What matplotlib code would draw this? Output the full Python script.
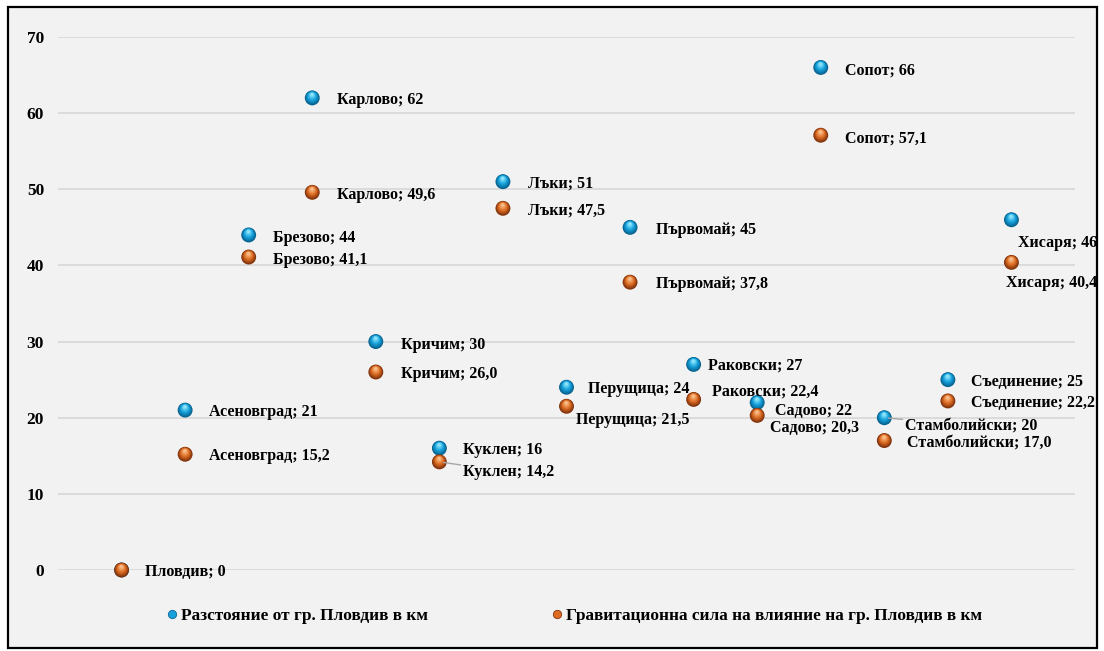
import numpy as np
import matplotlib
matplotlib.use("Agg")
import matplotlib.pyplot as plt
from matplotlib.transforms import offset_copy
from matplotlib.patches import Rectangle
from matplotlib.lines import Line2D
from matplotlib.colors import to_rgb

plt.rcParams['font.family'] = ['Liberation Serif', 'DejaVu Serif']
plt.rcParams['font.weight'] = 'bold'

# данни
towns = ['Пловдив', 'Асеновград', 'Брезово', 'Карлово', 'Кричим', 'Куклен', 'Лъки',
         'Перущица', 'Първомай', 'Раковски', 'Садово', 'Сопот', 'Стамболийски',
         'Съединение', 'Хисаря']
distance = [0, 21, 44, 62, 30, 16, 51, 24, 45, 27, 22, 66, 20, 25, 46]
gravity = [0, 15.2, 41.1, 49.6, 26.0, 14.2, 47.5, 21.5, 37.8, 22.4, 20.3, 57.1, 17.0, 22.2, 40.4]
name_dist = 'Разстояние от гр. Пловдив в км'
name_grav = 'Гравитационна сила на влияние на гр. Пловдив в км'

# отместване на етикетите (пиксели: надясно, надолу)
off_dist = [(23, 0), (24, 0), (24, 1), (25, 0), (25, 1), (24, 0), (25, 0), (21, 0),
            (26, 1), (14, -1), (18, 7), (24, 1), (21, 6), (23, 0), (7, 21)]
off_grav = [None, (24, 0), (24, 1), (25, 1), (25, 0), (24, 8), (25, 0), (10, 12),
            (26, 0), (18, -10), (13, 11), (24, 1), (23, 0), (23, 0), (-5, 19)]

x = np.arange(1, len(towns) + 1)

fig = plt.figure(figsize=(11.04, 6.51), dpi=100)
fig.patches.append(Rectangle((8 / 1104, 3 / 651), 1089 / 1104, 641 / 651,
                             transform=fig.transFigure, facecolor='#f2f2f2',
                             edgecolor='black', linewidth=1.6, zorder=-5))
ax = fig.add_axes([58 / 1104, 1 - 570 / 651, 1017 / 1104, 533 / 651])
ax.set_facecolor('none')


def sphere(xs, ys, dark, mid, light, s=115, z=3):
    # псевдо 3D топче: няколко кръга с преливане
    n = 9
    d, m, l = np.array(to_rgb(dark)), np.array(to_rgb(mid)), np.array(to_rgb(light))
    r = np.sqrt(s) / 2
    ax.scatter(xs, ys, s=s, color=dark, edgecolors='none', zorder=z, clip_on=False)
    for k in range(1, n):
        f = k / (n - 1)
        c = d + (m - d) * f * 2 if f < 0.5 else m + (l - m) * (f - 0.5) * 2
        size = s * (1 - 0.8 * f) ** 2
        tr = offset_copy(ax.transData, fig=fig, x=-0.03 * r * f, y=0.45 * r * f, units='points')
        ax.scatter(xs, ys, s=size, color=np.clip(c, 0, 1), edgecolors='none',
                   zorder=z + f, transform=tr, clip_on=False)


sphere(x, distance, '#06628f', '#18a4de', '#8be4fa')
sphere(x, gravity, '#80320c', '#de6e24', '#f8bc88', z=5)

lead = dict(arrowstyle='-', color='#a6a6a6', lw=1, shrinkA=0, shrinkB=3)
for i in range(len(towns)):
    dx, dy = off_dist[i]
    ax.annotate(f'{towns[i]}; {distance[i]}', (x[i], distance[i]),
                xytext=(dx * 0.72, -(dy + 2) * 0.72), textcoords='offset points',
                ha='left', va='center', fontsize=11.5, fontweight='bold', zorder=8,
                arrowprops=lead if towns[i] == 'Стамболийски' else None)
    if off_grav[i] is not None:
        dx, dy = off_grav[i]
        ax.annotate(f'{towns[i]}; {gravity[i]:.1f}'.replace('.', ','), (x[i], gravity[i]),
                    xytext=(dx * 0.72, -(dy + 2) * 0.72), textcoords='offset points',
                    ha='left', va='center', fontsize=11.5, fontweight='bold', zorder=8,
                    arrowprops=lead if towns[i] == 'Куклен' else None)

ax.set_xlim(0, 16)
ax.set_ylim(0, 70)
ax.set_yticks(np.arange(0, 71, 10))
ax.set_xticks([])
ax.grid(axis='y', color='#d9d9d9', lw=1.3, zorder=0)
ax.set_axisbelow(True)
for sp in ax.spines.values():
    sp.set_visible(False)
ax.tick_params(axis='y', length=0, pad=10, labelsize=12.5)
for t in ax.get_yticklabels():
    t.set_fontweight('bold')

handles = [Line2D([], [], ls='none', marker='o', ms=6, mfc='#18a0da', mec='#0a6a9a', mew=0.6),
           Line2D([], [], ls='none', marker='o', ms=6, mfc='#dc6c22', mec='#8a3410', mew=0.6)]
fig.legend(handles, [name_dist, name_grav], loc='center', ncol=2,
           bbox_to_anchor=(574.5 / 1104, 1 - 616 / 651), frameon=False,
           prop=dict(size=12.4, weight='bold'), handletextpad=0.25,
           handlelength=0.6, columnspacing=7.17)

fig.savefig('out.png', dpi=100)
